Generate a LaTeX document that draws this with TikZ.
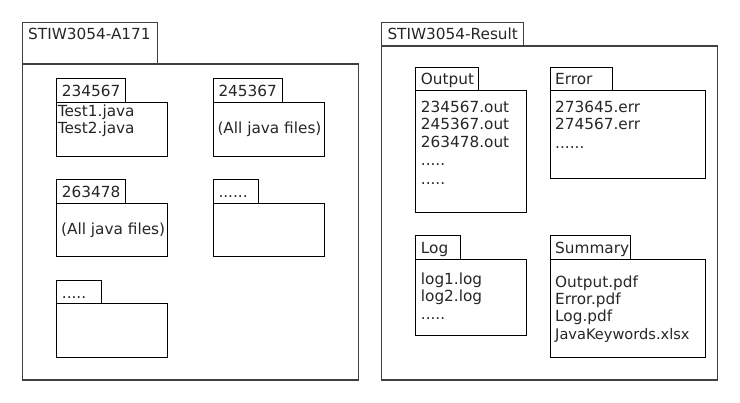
\documentclass[tikz,border=0pt]{standalone}
\usepackage{fontspec}
\setmainfont{DejaVu Sans}
\begin{document}
\begin{tikzpicture}[x=1pt,y=-1pt,
  frame/.style={draw=black!75, line width=1.3pt, inner sep=0pt, outer sep=0pt, anchor=north west},
  box/.style={draw=black, line width=0.9pt, inner sep=0pt, outer sep=0pt, anchor=north west},
  lbl/.style={anchor=base west, inner sep=0pt, font=\fontsize{15.3}{17}\selectfont, text=black!85}]
\useasboundingbox (0,0) rectangle (740,403);
% ---------- left package ----------
\node[frame, minimum width=335.6pt, minimum height=316pt] (lbody) at (22.7,64) {};
\node[frame, minimum width=135pt, minimum height=41.3pt] (ltab) at (22.7,22.7) {};
\node[lbl] (ltitle) at (28,39.3) {STIW3054-A171};
% 234567
\node[box, minimum width=110.6pt, minimum height=53.7pt] (p1body) at (56.7,102.3) {};
\node[box, minimum width=68.6pt, minimum height=23.6pt] (p1tab) at (56.7,78.7) {};
\node[lbl] (p1lab) at (61.7,96.7) {234567};
\node[lbl] (p1a) at (57.6,116.3) {Test1.java};
\node[lbl] (p1b) at (57.6,133.3) {Test2.java};
% 245367
\node[box, minimum width=111pt, minimum height=53.7pt] (p2body) at (213.3,102.3) {};
\node[box, minimum width=68.7pt, minimum height=23.6pt] (p2tab) at (213.3,78.7) {};
\node[lbl] (p2lab) at (218.3,96.7) {245367};
\node[lbl] (p2a) at (217.3,134) {(All java files)};
% 263478
\node[box, minimum width=110.6pt, minimum height=53.4pt] (p3body) at (56.7,203.3) {};
\node[box, minimum width=68.6pt, minimum height=24pt] (p3tab) at (56.7,179.3) {};
\node[lbl] (p3lab) at (61.7,197.3) {263478};
\node[lbl] (p3a) at (61,234.3) {(All java files)};
% ......
\node[box, minimum width=111pt, minimum height=53.4pt] (p4body) at (213.3,203.3) {};
\node[box, minimum width=45.4pt, minimum height=24pt] (p4tab) at (213.3,179.3) {};
\node[lbl] (p4lab) at (218.3,197.8) {......};
% .....
\node[box, minimum width=110.6pt, minimum height=54pt] (p5body) at (56.7,303.3) {};
\node[box, minimum width=45pt, minimum height=23pt] (p5tab) at (56.7,280.3) {};
\node[lbl] (p5lab) at (61.7,298.3) {.....};
% ---------- right package ----------
\node[frame, minimum width=335.6pt, minimum height=334pt] (rbody) at (381.7,46) {};
\node[frame, minimum width=141.6pt, minimum height=23.3pt] (rtab) at (381.7,22.7) {};
\node[lbl] (rtitle) at (387.3,40) {STIW3054-Result};
% Output
\node[box, minimum width=110.6pt, minimum height=121.6pt] (obody) at (415.7,90.7) {};
\node[box, minimum width=62.6pt, minimum height=23pt] (otab) at (415.7,67.7) {};
\node[lbl] (olab) at (420.7,85) {Output};
\node[lbl] (o1) at (420.7,112.7) {234567.out};
\node[lbl] (o2) at (420.7,130) {245367.out};
\node[lbl] (o3) at (420.7,147.3) {263478.out};
\node[lbl] (o4) at (420.7,166) {.....};
\node[lbl] (o5) at (420.7,184.5) {.....};
% Error
\node[box, minimum width=155.7pt, minimum height=87.6pt] (ebody) at (550,90.7) {};
\node[box, minimum width=62.3pt, minimum height=23pt] (etab) at (550,67.7) {};
\node[lbl] (elab) at (555,85) {Error};
\node[lbl] (e1) at (555,112.7) {273645.err};
\node[lbl] (e2) at (555,130) {274567.err};
\node[lbl] (e3) at (555,148.5) {......};
% Log
\node[box, minimum width=110.6pt, minimum height=76pt] (gbody) at (415.7,259) {};
\node[box, minimum width=44.6pt, minimum height=23.7pt] (gtab) at (415.7,235.3) {};
\node[lbl] (glab) at (420.7,254) {Log};
\node[lbl] (g1) at (420.7,285) {log1.log};
\node[lbl] (g2) at (420.7,301.7) {log2.log};
\node[lbl] (g3) at (420.7,319.5) {.....};
% Summary
\node[box, minimum width=155.7pt, minimum height=98.3pt] (sbody) at (550,259) {};
\node[box, minimum width=80.3pt, minimum height=23.7pt] (stab) at (550,235.3) {};
\node[lbl] (slab) at (555,254) {Summary};
\node[lbl] (s1) at (555,287.3) {Output.pdf};
\node[lbl] (s2) at (555,304.3) {Error.pdf};
\node[lbl] (s3) at (555,321.7) {Log.pdf};
\node[lbl, font=\fontsize{14.6}{17}\selectfont] (s4) at (555,339.3) {JavaKeywords.xlsx};
\end{tikzpicture}
\end{document}
